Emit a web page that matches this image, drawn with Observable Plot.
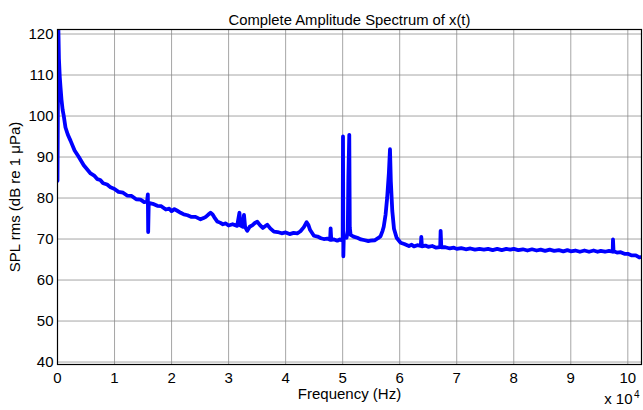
<!DOCTYPE html>
<html>
<head>
<meta charset="utf-8">
<script src="https://cdn.jsdelivr.net/npm/d3@7"></script>
<script src="https://cdn.jsdelivr.net/npm/@observablehq/plot@0.6"></script>
<style>
  html, body { margin: 0; padding: 0; background: #fff; }
</style>
</head>
<body>
<div id="chart"></div>
<script>
const titleText = "Complete Amplitude Spectrum of x(t)";
const xLabel = "Frequency (Hz)";
const yLabel = "SPL rms (dB re 1 μPa)";
const xTicks = [0, 10000, 20000, 30000, 40000, 50000, 60000, 70000, 80000, 90000, 100000];
const yTicks = [40, 50, 60, 70, 80, 90, 100, 110, 120];

const freqHz = [
  0, 150, 250, 400, 530, 700, 900, 1100, 1400, 1800, 2280, 3000, 3740, 4600, 5800, 6500, 7000, 7500, 8000, 8700, 9300,
  10000, 10700, 11500, 12200, 13000, 13800, 14560, 15200, 15700, 15840, 15900, 16000, 16700, 17500, 18200, 19000, 19600,
  20000, 20500, 21000, 21600, 22150, 22800, 23500, 24200, 25080, 25600, 26000, 26400, 26840, 27200, 27500, 28000, 28500,
  29000, 29500, 30000, 30700, 31500, 31900, 32100, 32500, 32700, 32900, 33270, 33700, 34200, 34600, 35030, 35500, 36000,
  36400, 36780, 37300, 37950, 38600, 39300, 40000, 40700, 41400, 42040, 42600, 43200, 43680, 44000, 44300, 44960, 45600,
  46200, 46700, 47300, 47800, 47890, 48000, 48500, 49060, 49500, 50000, 50060, 50120, 50200, 50690, 50900, 51000, 51160,
  51250, 51400, 51900, 52570, 53200, 53900, 54500, 54900, 55600, 56200, 56650, 57000, 57200, 57530, 57800, 58100, 58300,
  58450, 58700, 59000, 59460, 60160, 60800, 61620, 62100, 62500, 63100, 63700, 63790, 63900, 64500, 65000, 65700, 66400,
  67100, 67180, 67300, 68000, 68800, 69500, 70000, 70800, 71600, 72400, 73200, 74000, 74770, 75500, 76300, 77100, 77900,
  78700, 79400, 80000, 80800, 81600, 82400, 83200, 84000, 84720, 85500, 86300, 87100, 87900, 88700, 89400, 90000, 90800,
  91600, 92400, 93200, 94000, 94700, 95250, 96000, 96700, 97350, 97400, 97500, 98100, 98750, 99400, 100000, 100700,
  101400, 102000, 102400
];
const splDb = [
  84.2, 121.5, 114, 109.5, 107, 104, 101.5, 100, 97.2, 95.5, 94, 91.6, 90.0, 88.0, 86.0, 85.4, 84.6, 84.4, 83.6, 83.3, 82.6,
  82.2, 81.5, 81.3, 80.6, 80.5, 79.7, 79.6, 79.0, 79.1, 80.9, 71.7, 78.8, 78.6, 78.1, 78.0, 77.2, 77.4,
  76.8, 77.3, 76.9, 76.4, 76.0, 75.8, 75.4, 75.4, 74.8, 75.1, 75.4, 75.9, 76.4, 76.0, 75.3, 74.3, 74.0,
  73.6, 73.8, 73.3, 73.6, 73.2, 76.4, 73.3, 73.0, 75.9, 72.9, 72.0, 73.0, 73.4, 73.9, 74.2, 73.4, 72.7,
  73.1, 73.5, 72.6, 71.8, 71.7, 71.4, 71.6, 71.2, 71.5, 71.4, 71.9, 72.9, 74.1, 73.4, 72.2, 70.8, 70.6,
  70.2, 70.0, 70.1, 69.8, 72.6, 69.8, 69.9, 69.6, 69.9, 69.6, 95.0, 65.8, 70.5, 70.3, 72.0, 85.0, 95.4,
  72.8, 71.0, 70.6, 70.3, 69.9, 69.7, 69.5, 69.6, 69.7, 70.2, 70.7, 72.0, 73.0, 76.0, 80.0, 86.0, 91.9,
  84.0, 76.9, 72.5, 70.3, 69.1, 68.8, 68.3, 68.6, 68.2, 68.5, 68.3, 70.5, 68.2, 68.4, 68.1, 68.3, 67.9,
  68.0, 72.0, 68.0, 68.0, 67.7, 67.9, 67.6, 67.8, 67.5, 67.7, 67.4, 67.6, 67.4, 67.6, 67.3, 67.6, 67.3,
  67.6, 67.4, 67.6, 67.3, 67.5, 67.2, 67.5, 67.2, 67.4, 67.1, 67.4, 67.1, 67.3, 67.0, 67.3, 67.0, 67.2,
  66.9, 67.2, 66.9, 67.2, 66.9, 67.1, 66.9, 67.1, 66.9, 69.9, 67.0, 66.7, 66.8, 66.4, 66.4, 66.0,
  66.0, 65.5, 65.6
];

const data = freqHz.map((f, i) => ({f, v: splDb[i]}));

const font = "'Liberation Sans', Arial, Helvetica, sans-serif";
const fmt = d => String(d / 1e4);

const chart = Plot.plot({
  width: 643,
  height: 410,
  marginLeft: 57,
  marginRight: 2,
  marginTop: 29,
  marginBottom: 46,
  style: {fontFamily: font, fontSize: "15px", color: "#000", background: "#fff"},
  x: {domain: [0, 102400], ticks: xTicks, tickFormat: fmt},
  y: {domain: [39.4, 121.1], ticks: yTicks},
  marks: [
    Plot.gridX(xTicks, {stroke: "#888", strokeOpacity: 0.75}),
    Plot.gridY(yTicks, {stroke: "#888", strokeOpacity: 0.75}),
    Plot.line(data, {x: "f", y: "v", stroke: "#0000ff", strokeWidth: 3.8, clip: true, strokeLinejoin: "round"}),
    Plot.frame({stroke: "#000", strokeWidth: 1.2}),
    Plot.axisX(xTicks, {tickSize: 0, tickPadding: 8, fontSize: 15, label: xLabel, labelAnchor: "center", labelArrow: "none", labelOffset: 34, tickFormat: fmt}),
    Plot.axisY(yTicks, {tickSize: 0, tickPadding: 4, fontSize: 15, label: yLabel, labelAnchor: "center", labelArrow: "none", labelOffset: 48}),
    Plot.text([titleText], {frameAnchor: "top", dy: -15, text: d => d, fontSize: 14.8, fill: "#000"}),
    Plot.text(["x 10"], {frameAnchor: "bottom-right", dx: -9, dy: 39, text: d => d, fontSize: 15, textAnchor: "end", fill: "#000"}),
    Plot.text(["4"], {frameAnchor: "bottom-right", dx: -2, dy: 33, text: d => d, fontSize: 10, textAnchor: "end", fill: "#000"})
  ]
});
document.getElementById("chart").appendChild(chart);
</script>
</body>
</html>
